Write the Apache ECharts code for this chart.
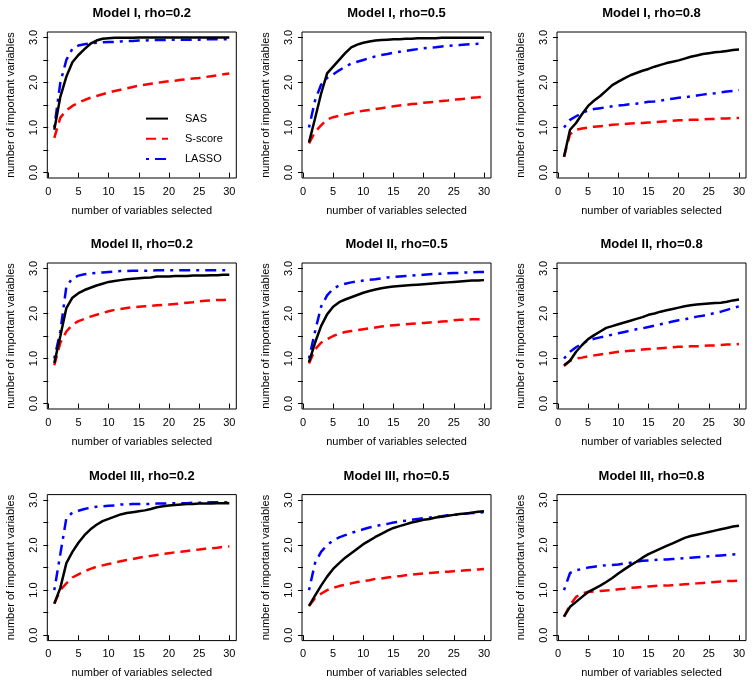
<!DOCTYPE html>
<html><head><meta charset="utf-8">
<script src="https://cdn.jsdelivr.net/npm/echarts@6/dist/echarts.min.js"></script>
<style>html,body{margin:0;padding:0;background:#fff}#c{width:756px;height:686px}</style>
</head><body><div id="c"></div>
<script>
// ---- data ----
const xSelected = [1,2,3,4,5,6,7,8,9,10,11,12,13,14,15,16,17,18,19,20,21,22,23,24,25,26,27,28,29,30];
const panelTitles = ['Model I, rho=0.2','Model I, rho=0.5','Model I, rho=0.8',
                     'Model II, rho=0.2','Model II, rho=0.5','Model II, rho=0.8',
                     'Model III, rho=0.2','Model III, rho=0.5','Model III, rho=0.8'];
const seriesNames = ['SAS','S-score','LASSO'];
const xTicks = [0,5,10,15,20,25,30];
const yTicks = [0,0.5,1,1.5,2,2.5,3];
const yLabelTicks = [0,1,2,3];

const sasI2   = [0.95,1.68,2.13,2.45,2.61,2.74,2.86,2.93,2.97,2.98,2.99,2.99,2.99,2.99,3.0,3.0,3.0,3.0,3.0,3.0,3.0,3.0,3.0,3.0,3.0,3.0,3.0,3.0,3.0,3.0];
const lassoI2 = [1.0,2.0,2.5,2.75,2.82,2.85,2.87,2.88,2.89,2.9,2.9,2.91,2.92,2.92,2.93,2.93,2.94,2.94,2.94,2.95,2.95,2.95,2.95,2.95,2.95,2.96,2.96,2.96,2.96,2.96];
const scoreI2 = [0.77,1.22,1.38,1.48,1.55,1.61,1.66,1.7,1.74,1.78,1.81,1.84,1.87,1.9,1.93,1.95,1.97,1.99,2.01,2.03,2.04,2.06,2.07,2.09,2.1,2.12,2.14,2.16,2.18,2.2];

const sasI5   = [0.67,1.2,1.75,2.2,2.35,2.5,2.65,2.78,2.84,2.88,2.91,2.93,2.94,2.95,2.96,2.96,2.97,2.97,2.98,2.98,2.98,2.98,2.99,2.99,2.99,2.99,2.99,2.99,2.99,2.99];
const lassoI5 = [1.0,1.6,1.95,2.1,2.18,2.27,2.35,2.42,2.46,2.5,2.54,2.58,2.61,2.63,2.66,2.68,2.7,2.72,2.74,2.76,2.77,2.78,2.8,2.81,2.82,2.83,2.84,2.85,2.86,2.87];
const scoreI5 = [0.65,0.9,1.05,1.18,1.23,1.26,1.29,1.32,1.35,1.37,1.39,1.41,1.43,1.45,1.47,1.49,1.5,1.52,1.53,1.55,1.56,1.57,1.59,1.6,1.62,1.63,1.64,1.66,1.67,1.69];

const sasI8   = [0.35,0.95,1.1,1.3,1.48,1.6,1.7,1.82,1.94,2.02,2.09,2.16,2.21,2.26,2.3,2.35,2.39,2.43,2.46,2.49,2.53,2.57,2.6,2.63,2.65,2.67,2.68,2.7,2.72,2.73];
const lassoI8 = [1.0,1.17,1.25,1.32,1.38,1.41,1.43,1.45,1.47,1.49,1.5,1.52,1.53,1.55,1.57,1.58,1.6,1.62,1.64,1.66,1.67,1.69,1.71,1.73,1.75,1.76,1.78,1.8,1.81,1.83];
const scoreI8 = [0.35,0.85,0.95,0.98,1.0,1.02,1.03,1.04,1.06,1.07,1.08,1.09,1.1,1.1,1.11,1.12,1.13,1.14,1.15,1.16,1.16,1.17,1.17,1.18,1.19,1.19,1.2,1.2,1.21,1.21];

const sasII2   = [0.9,1.5,2.12,2.35,2.45,2.52,2.57,2.62,2.66,2.7,2.72,2.74,2.76,2.77,2.78,2.79,2.8,2.82,2.82,2.82,2.83,2.83,2.83,2.84,2.84,2.84,2.85,2.85,2.86,2.86];
const lassoII2 = [1.0,1.6,2.6,2.78,2.84,2.87,2.89,2.9,2.91,2.92,2.93,2.94,2.94,2.95,2.95,2.95,2.95,2.96,2.96,2.96,2.96,2.96,2.96,2.96,2.96,2.96,2.96,2.96,2.96,2.96];
const scoreII2 = [0.85,1.35,1.6,1.75,1.83,1.88,1.93,1.97,2.01,2.05,2.08,2.1,2.12,2.14,2.15,2.16,2.17,2.18,2.19,2.2,2.21,2.22,2.24,2.25,2.27,2.28,2.29,2.3,2.3,2.31];

const sasII5   = [0.92,1.35,1.72,1.98,2.15,2.25,2.31,2.36,2.41,2.46,2.5,2.53,2.56,2.58,2.6,2.61,2.62,2.63,2.64,2.65,2.66,2.67,2.68,2.69,2.7,2.71,2.72,2.73,2.73,2.74];
const lassoII5 = [1.0,1.6,2.15,2.4,2.55,2.62,2.66,2.69,2.71,2.73,2.75,2.76,2.78,2.8,2.81,2.82,2.83,2.84,2.85,2.86,2.87,2.88,2.88,2.89,2.9,2.9,2.91,2.91,2.92,2.92];
const scoreII5 = [0.89,1.2,1.35,1.43,1.5,1.55,1.59,1.61,1.63,1.65,1.67,1.69,1.71,1.73,1.74,1.75,1.76,1.77,1.78,1.79,1.8,1.81,1.82,1.83,1.85,1.86,1.86,1.87,1.87,1.88];

const sasII8   = [0.85,0.95,1.15,1.3,1.43,1.52,1.6,1.68,1.72,1.76,1.8,1.84,1.88,1.92,1.97,2.0,2.04,2.07,2.1,2.13,2.16,2.18,2.2,2.21,2.22,2.23,2.24,2.26,2.29,2.31];
const lassoII8 = [1.0,1.15,1.25,1.33,1.4,1.44,1.47,1.5,1.53,1.56,1.59,1.62,1.65,1.67,1.7,1.73,1.76,1.79,1.82,1.85,1.87,1.9,1.93,1.95,1.98,2.01,2.04,2.08,2.12,2.16];
const scoreII8 = [0.83,0.95,1.0,1.02,1.05,1.07,1.09,1.11,1.13,1.15,1.16,1.17,1.18,1.2,1.21,1.22,1.23,1.24,1.25,1.26,1.26,1.27,1.27,1.28,1.29,1.29,1.3,1.31,1.31,1.32];

const sasIII2   = [0.7,1.05,1.6,1.85,2.05,2.22,2.35,2.45,2.53,2.58,2.63,2.68,2.71,2.73,2.75,2.77,2.8,2.84,2.86,2.88,2.89,2.9,2.91,2.91,2.92,2.92,2.92,2.93,2.93,2.93];
const lassoIII2 = [1.0,1.8,2.6,2.72,2.76,2.8,2.83,2.85,2.86,2.87,2.88,2.9,2.9,2.91,2.91,2.91,2.91,2.92,2.92,2.92,2.93,2.93,2.93,2.94,2.94,2.94,2.95,2.95,2.95,2.95];
const scoreIII2 = [0.7,1.0,1.15,1.28,1.35,1.42,1.47,1.52,1.55,1.58,1.61,1.64,1.67,1.69,1.72,1.74,1.76,1.78,1.8,1.82,1.84,1.85,1.87,1.89,1.9,1.92,1.93,1.94,1.96,1.97];

const sasIII5   = [0.65,0.88,1.1,1.3,1.47,1.6,1.72,1.82,1.92,2.02,2.1,2.18,2.25,2.32,2.38,2.42,2.46,2.5,2.53,2.56,2.58,2.61,2.63,2.65,2.67,2.69,2.7,2.72,2.74,2.75];
const lassoIII5 = [1.0,1.6,1.85,2.0,2.1,2.17,2.22,2.27,2.31,2.35,2.39,2.42,2.45,2.47,2.5,2.52,2.54,2.56,2.58,2.6,2.61,2.63,2.64,2.66,2.67,2.68,2.7,2.71,2.72,2.73];
const scoreIII5 = [0.65,0.82,0.92,1.0,1.05,1.09,1.12,1.15,1.18,1.2,1.22,1.25,1.26,1.28,1.3,1.31,1.33,1.34,1.36,1.37,1.38,1.39,1.4,1.41,1.42,1.43,1.44,1.45,1.46,1.47];

const sasIII8   = [0.41,0.63,0.74,0.85,0.96,1.03,1.1,1.18,1.27,1.37,1.46,1.55,1.63,1.72,1.8,1.86,1.92,1.98,2.04,2.1,2.16,2.2,2.23,2.26,2.29,2.32,2.35,2.38,2.41,2.43];
const lassoIII8 = [1.0,1.38,1.44,1.47,1.5,1.52,1.54,1.55,1.56,1.57,1.59,1.61,1.63,1.65,1.66,1.67,1.68,1.68,1.69,1.7,1.71,1.72,1.73,1.74,1.75,1.76,1.77,1.78,1.79,1.8];
const scoreIII8 = [0.41,0.67,0.85,0.93,0.96,0.97,0.98,0.99,1.0,1.02,1.03,1.05,1.06,1.07,1.08,1.09,1.1,1.1,1.11,1.12,1.13,1.14,1.15,1.16,1.17,1.18,1.19,1.2,1.2,1.21];

const panelData = [
  [sasI2, scoreI2, lassoI2], [sasI5, scoreI5, lassoI5], [sasI8, scoreI8, lassoI8],
  [sasII2, scoreII2, lassoII2], [sasII5, scoreII5, lassoII5], [sasII8, scoreII8, lassoII8],
  [sasIII2, scoreIII2, lassoIII2], [sasIII5, scoreIII5, lassoIII5], [sasIII8, scoreIII8, lassoIII8]
];

// ---- layout / style ----
const FONT = 'Liberation Sans, Arial, Helvetica, sans-serif';
const colLeft = [47.3, 302, 557];
const rowTop = [32, 263, 494.6];
const boxW = 189, boxH = 146;
const lineStyles = [
  {color:'#000000', width:2.5, type:'solid'},
  {color:'#FF0000', width:2.5, type:[10,6], cap:'butt'},
  {color:'#0000FF', width:2.5, type:[3,6,11,6], cap:'butt'}
];

const grids = [], xAxes = [], yAxes = [], titles = [], series = [];
for (let i = 0; i < 9; i++) {
  const r = Math.floor(i/3), c = i % 3;
  grids.push({left: colLeft[c], top: rowTop[r], width: boxW, height: boxH,
    show: true, borderColor: '#000', borderWidth: 1, backgroundColor: 'transparent', containLabel: false});
  titles.push({text: panelTitles[i], left: colLeft[c] + boxW/2, top: rowTop[r] - 25, textAlign: 'center',
    padding: 0, textStyle: {fontFamily: FONT, fontSize: 13, fontWeight: 'bold', color: '#000'}});
  xAxes.push({type:'value', gridIndex:i, min:-0.16, max:31.16,
    name:'number of variables selected', nameLocation:'middle', nameGap:27,
    nameTextStyle:{fontFamily:FONT, fontSize:11, color:'#000'},
    axisLine:{show:false}, splitLine:{show:false},
    axisTick:{show:true, inside:false, length:5, customValues:xTicks, lineStyle:{color:'#000', width:1}},
    axisLabel:{show:true, margin:8, fontFamily:FONT, fontSize:11, color:'#000', customValues:xTicks,
      formatter: v => String(v)}});
  yAxes.push({type:'value', gridIndex:i, min:-0.12, max:3.12,
    name:'number of important variables', nameLocation:'middle', nameGap:31, nameRotate:90,
    nameTextStyle:{fontFamily:FONT, fontSize:11, color:'#000'},
    axisLine:{show:false}, splitLine:{show:false},
    axisTick:{show:true, inside:false, length:5, customValues:yTicks, lineStyle:{color:'#000', width:1}},
    axisLabel:{show:true, margin:8, rotate:90, fontFamily:FONT, fontSize:11, color:'#000', customValues:yLabelTicks,
      formatter: v => Number(v).toFixed(1)}});
  for (let s = 0; s < 3; s++) {
    series.push({type:'line', name: seriesNames[s], xAxisIndex:i, yAxisIndex:i,
      data: xSelected.map((x, k) => [x, panelData[i][s][k]]),
      symbol:'none', smooth:false, silent:true, animation:false,
      lineStyle: lineStyles[s], itemStyle:{color: lineStyles[s].color}, z: 3 - s});
  }
}

const chart = echarts.init(document.getElementById('c'), null, {renderer:'canvas'});
chart.setOption({
  backgroundColor:'#ffffff',
  animation:false,
  title: titles,
  grid: grids, xAxis: xAxes, yAxis: yAxes,
  legend: {show:true, orient:'vertical', left:145, top:113, padding:0, itemWidth:22, itemHeight:14, itemGap:9,
    selectedMode:false, itemStyle:{opacity:0},
    textStyle:{fontFamily:FONT, fontSize:11, color:'#000', padding:[0,0,0,12]},
    data: seriesNames},
  series: series
});
</script>
</body></html>
